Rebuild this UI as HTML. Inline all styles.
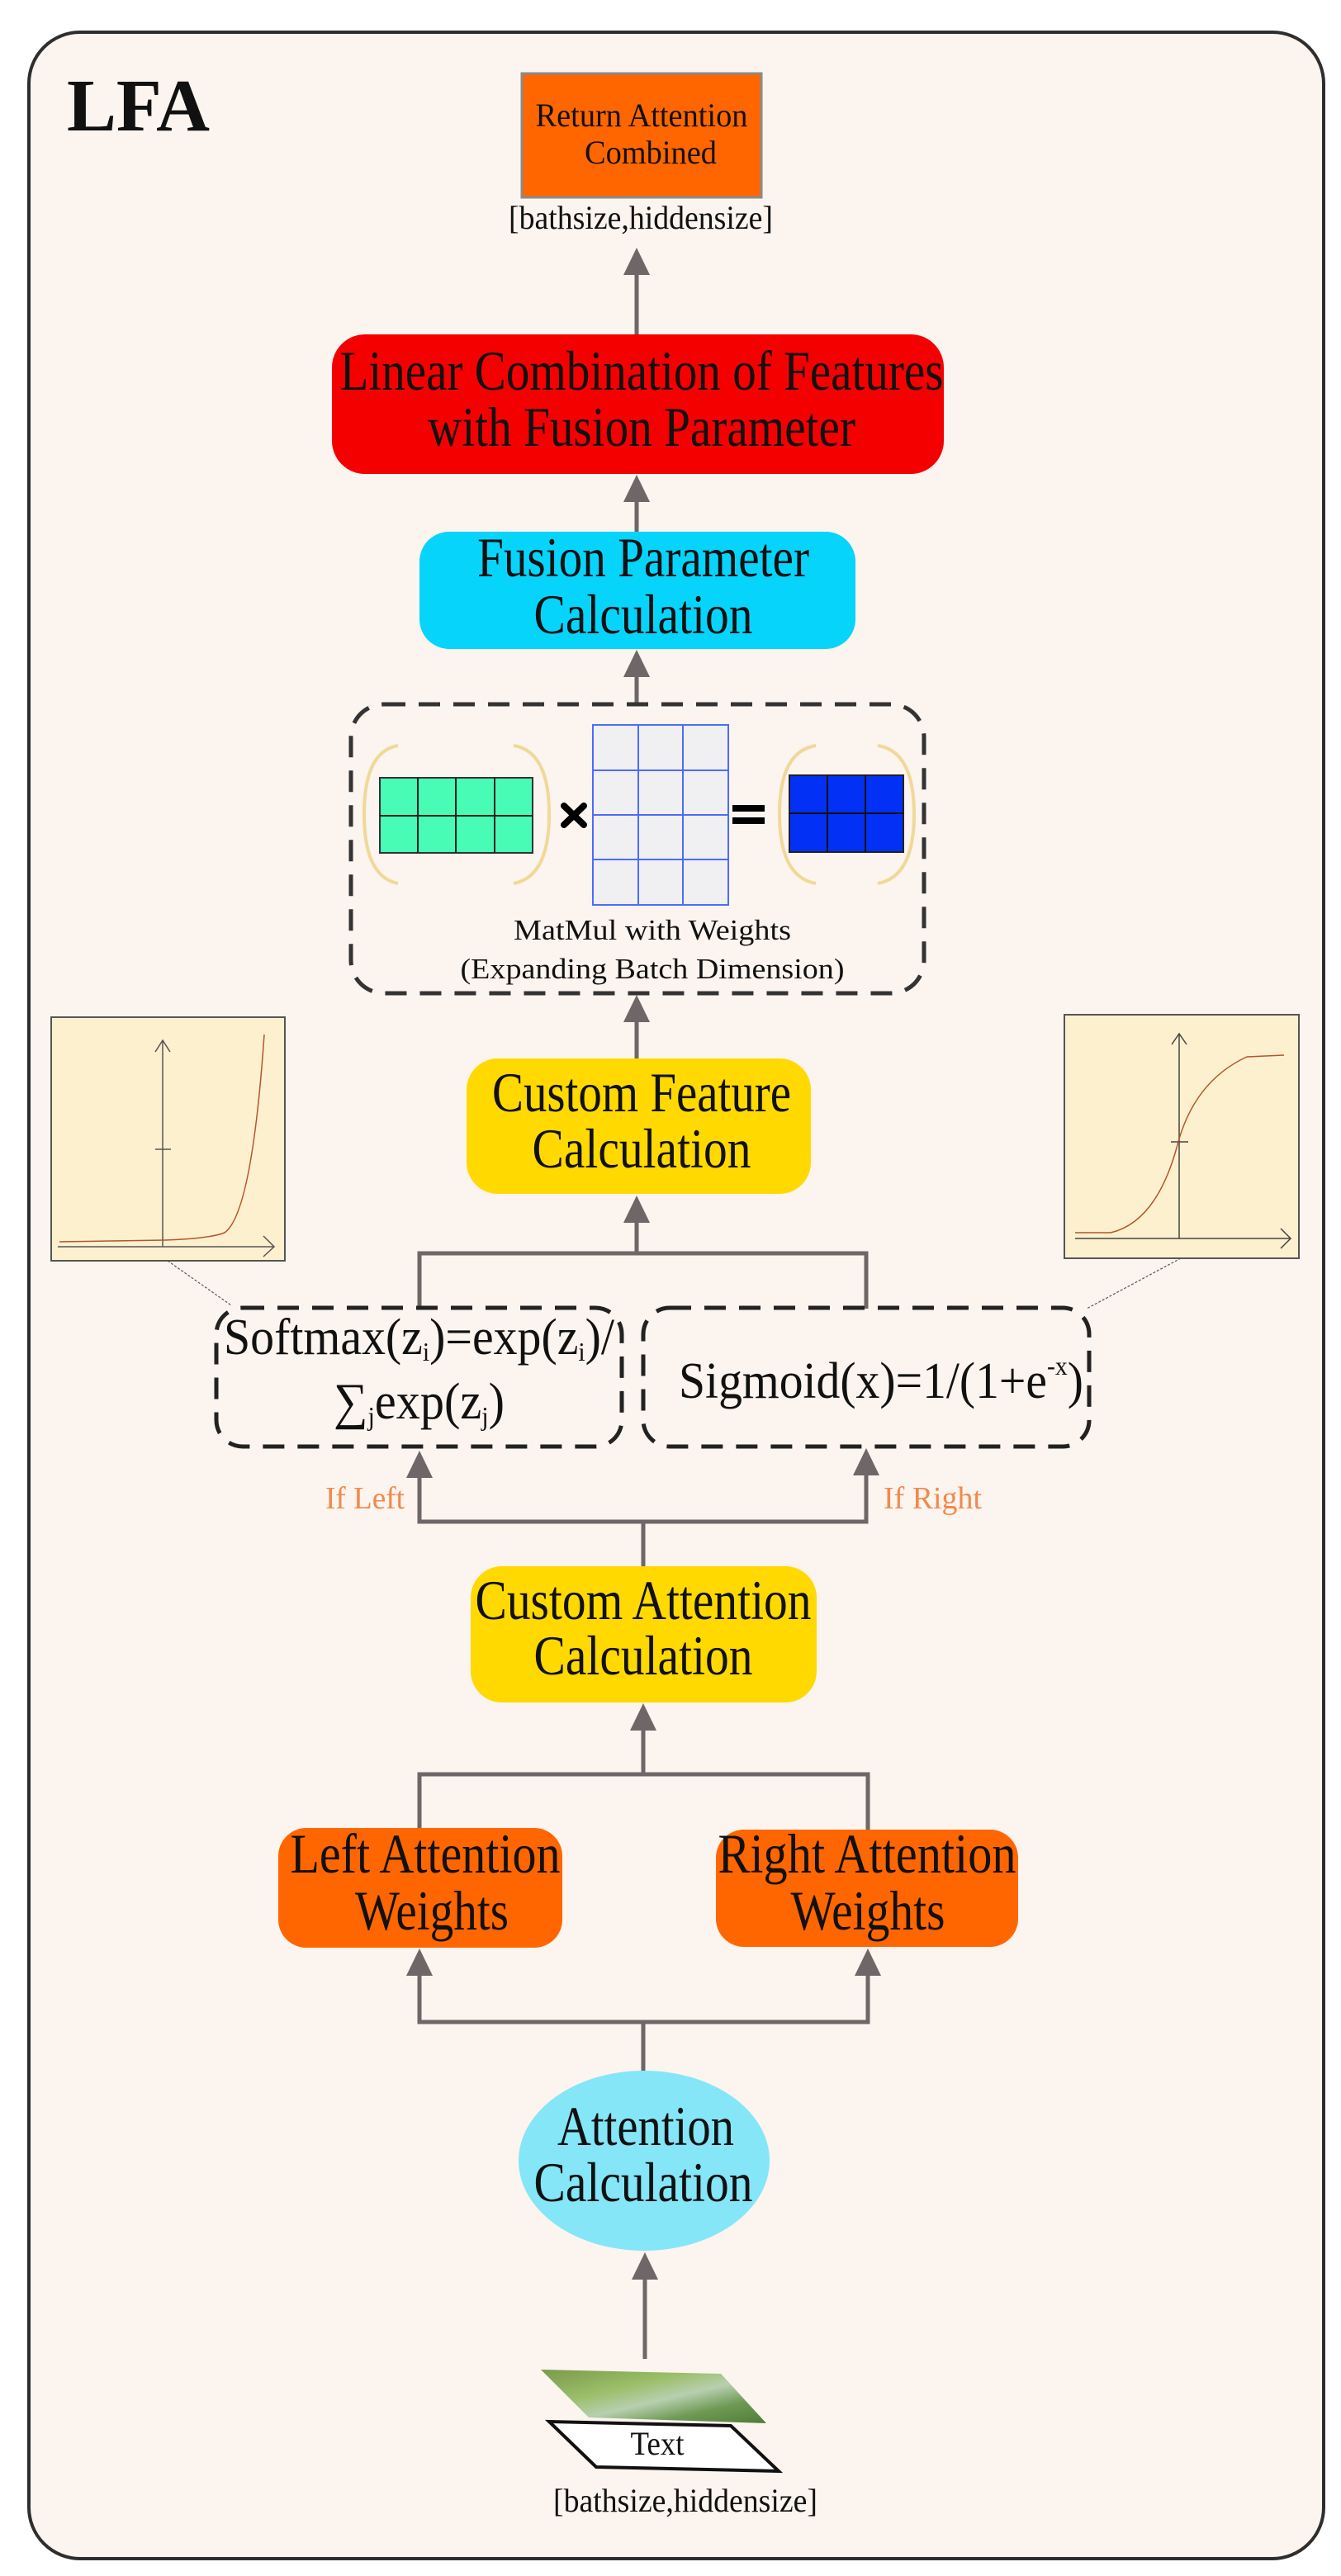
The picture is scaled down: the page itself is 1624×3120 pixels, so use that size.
<!DOCTYPE html>
<html><head><meta charset="utf-8">
<style>
html,body{margin:0;padding:0;background:#fff;}
svg{display:block;}
text{font-family:"Liberation Serif","DejaVu Serif",serif;fill:#111;}
</style></head>
<body>
<svg width="1624" height="3120" viewBox="0 0 1624 3120" xmlns="http://www.w3.org/2000/svg">
<defs>
<linearGradient id="leaf" x1="0" y1="0" x2="1" y2="1">
<stop offset="0" stop-color="#7a9a4a"/><stop offset="0.35" stop-color="#9bbf6a"/><stop offset="0.55" stop-color="#b8cfb0"/><stop offset="0.75" stop-color="#6f9a55"/><stop offset="1" stop-color="#4f7a3a"/>
</linearGradient>
</defs>
<rect x="0" y="0" width="1624" height="3120" fill="#ffffff"/>
<rect x="35" y="39" width="1568" height="3060" rx="62" fill="#fbf4ef" stroke="#2e2e2e" stroke-width="4"/>

<text x="81" y="158" font-size="90" font-weight="bold" textLength="173" lengthAdjust="spacingAndGlyphs">LFA</text>

<rect x="632" y="89" width="290" height="150" fill="#ff6600" stroke="#8a8a8a" stroke-width="3"/>
<text x="777" y="153" font-size="40" text-anchor="middle" textLength="257" lengthAdjust="spacingAndGlyphs">Return Attention</text>
<text x="788" y="198" font-size="40" text-anchor="middle" textLength="160" lengthAdjust="spacingAndGlyphs">Combined</text>
<text x="776" y="277" font-size="40" text-anchor="middle" textLength="320" lengthAdjust="spacingAndGlyphs">[bathsize,hiddensize]</text>

<g fill="#6e6667" stroke="none">
<polygon points="771,300 755,333 787,333"/>
<polygon points="771,575 755,608 787,608"/>
<polygon points="771,787 755,820 787,820"/>
<polygon points="771,1205 755,1238 787,1238"/>
<polygon points="771,1448 755,1481 787,1481"/>
<polygon points="508,1757 492,1790 524,1790"/>
<polygon points="1049,1754 1033,1787 1065,1787"/>
<polygon points="779,2063 763,2096 795,2096"/>
<polygon points="508,2360 492,2393 524,2393"/>
<polygon points="1051,2360 1035,2393 1067,2393"/>
<polygon points="781,2728 765,2761 797,2761"/>
</g>
<g stroke="#6e6667" stroke-width="5" fill="none">
<line x1="771" y1="330" x2="771" y2="405"/>
<line x1="771" y1="605" x2="771" y2="644"/>
<line x1="771" y1="815" x2="771" y2="852"/>
<line x1="771" y1="1235" x2="771" y2="1282"/>
<polyline points="508,1585 508,1518 1049,1518 1049,1585"/>
<line x1="771" y1="1478" x2="771" y2="1518"/>
<polyline points="508,1787 508,1843 1049,1843 1049,1784"/>
<line x1="779" y1="1843" x2="779" y2="1897"/>
<line x1="779" y1="2093" x2="779" y2="2149"/>
<polyline points="508,2216 508,2149 1051,2149 1051,2216"/>
<polyline points="508,2390 508,2449 1051,2449 1051,2390"/>
<line x1="779" y1="2449" x2="779" y2="2508"/>
<line x1="781" y1="2758" x2="781" y2="2857"/>
</g>

<rect x="402" y="405" width="741" height="169" rx="40" fill="#f50000"/>
<text x="777" y="472" font-size="68" text-anchor="middle" textLength="731" lengthAdjust="spacingAndGlyphs">Linear Combination of Features</text>
<text x="777" y="540" font-size="68" text-anchor="middle" textLength="518" lengthAdjust="spacingAndGlyphs">with Fusion Parameter</text>

<rect x="508" y="644" width="528" height="142" rx="36" fill="#07d4fb"/>
<text x="779" y="698" font-size="68" text-anchor="middle" textLength="402" lengthAdjust="spacingAndGlyphs">Fusion Parameter</text>
<text x="779" y="767" font-size="68" text-anchor="middle" textLength="265" lengthAdjust="spacingAndGlyphs">Calculation</text>

<rect x="425" y="853" width="694" height="350" rx="40" fill="none" stroke="#333" stroke-width="5" stroke-dasharray="26,16"/>
<g fill="none" stroke="#f0d998" stroke-width="4">
<path d="M482,903 Q441,910 441,986 Q441,1062 482,1070"/>
<path d="M622,903 Q665,910 665,986 Q665,1062 622,1070"/>
<path d="M988,903 Q944,910 944,986 Q944,1062 988,1070"/>
<path d="M1063,903 Q1107,910 1107,986 Q1107,1062 1063,1070"/>
</g>
<rect x="460" y="942" width="185" height="91" fill="#48fcb5" stroke="#333" stroke-width="2"/>
<g stroke="#222" stroke-width="2">
<line x1="506" y1="942" x2="506" y2="1033"/><line x1="552" y1="942" x2="552" y2="1033"/><line x1="599" y1="942" x2="599" y2="1033"/>
<line x1="460" y1="988" x2="645" y2="988"/>
</g>
<rect x="718" y="878" width="164" height="218" fill="#f0f0f2" stroke="#4a6cff" stroke-width="2"/>
<g stroke="#4a6cff" stroke-width="2">
<line x1="773" y1="878" x2="773" y2="1096"/><line x1="827" y1="878" x2="827" y2="1096"/>
<line x1="718" y1="933" x2="882" y2="933"/><line x1="718" y1="987" x2="882" y2="987"/><line x1="718" y1="1041" x2="882" y2="1041"/>
</g>
<g stroke="#000" stroke-width="8" stroke-linecap="round">
<line x1="683" y1="976" x2="707" y2="999"/><line x1="707" y1="976" x2="683" y2="999"/>
</g>
<rect x="887" y="975" width="39" height="8" fill="#000"/>
<rect x="887" y="990" width="39" height="8" fill="#000"/>
<rect x="956" y="939" width="138" height="93" fill="#0330f5" stroke="#222" stroke-width="2"/>
<g stroke="#111" stroke-width="2">
<line x1="1002" y1="939" x2="1002" y2="1032"/><line x1="1048" y1="939" x2="1048" y2="1032"/>
<line x1="956" y1="985" x2="1094" y2="985"/>
</g>
<text x="790" y="1138" font-size="35" text-anchor="middle" textLength="336" lengthAdjust="spacingAndGlyphs">MatMul with Weights</text>
<text x="790" y="1185" font-size="35" text-anchor="middle" textLength="465" lengthAdjust="spacingAndGlyphs">(Expanding Batch Dimension)</text>

<rect x="565" y="1282" width="417" height="164" rx="38" fill="#ffd900"/>
<text x="777" y="1346" font-size="68" text-anchor="middle" textLength="362" lengthAdjust="spacingAndGlyphs">Custom Feature</text>
<text x="777" y="1414" font-size="68" text-anchor="middle" textLength="265" lengthAdjust="spacingAndGlyphs">Calculation</text>

<rect x="62" y="1232" width="283" height="295" fill="#fdf0cf" stroke="#555" stroke-width="2"/>
<g stroke="#555" stroke-width="1.5" fill="none">
<line x1="197" y1="1260" x2="197" y2="1510"/><polyline points="188,1274 197,1260 206,1274"/>
<line x1="188" y1="1392" x2="207" y2="1392"/>
<line x1="70" y1="1510" x2="332" y2="1510"/><polyline points="319,1497 332,1510 319,1522"/>
</g>
<path d="M72,1504 L200,1502 Q255,1500 272,1493 Q305,1470 320,1253" fill="none" stroke="#b4552a" stroke-width="1.5"/>
<line x1="203" y1="1527" x2="280" y2="1581" stroke="#555" stroke-width="1.2" stroke-dasharray="3,2"/>

<rect x="1289" y="1229" width="284" height="295" fill="#fdf0cf" stroke="#555" stroke-width="2"/>
<g stroke="#444" stroke-width="1.5" fill="none">
<line x1="1428" y1="1252" x2="1428" y2="1500"/><polyline points="1419,1265 1428,1252 1437,1265"/>
<line x1="1418" y1="1383" x2="1439" y2="1383"/>
<line x1="1302" y1="1500" x2="1563" y2="1500"/><polyline points="1551,1488 1563,1500 1551,1512"/>
</g>
<path d="M1302,1493 L1345,1493 Q1400,1480 1425,1390 Q1445,1310 1510,1280 L1555,1278" fill="none" stroke="#b4552a" stroke-width="1.5"/>
<line x1="1430" y1="1524" x2="1316" y2="1585" stroke="#555" stroke-width="1.2" stroke-dasharray="3,2"/>

<rect x="262" y="1584" width="491" height="168" rx="32" fill="none" stroke="#222" stroke-width="5" stroke-dasharray="26,16"/>
<rect x="779" y="1584" width="540" height="168" rx="32" fill="none" stroke="#222" stroke-width="5" stroke-dasharray="26,16"/>
<text x="271" y="1640" font-size="62" textLength="473" lengthAdjust="spacingAndGlyphs">Softmax(z<tspan font-size="32" dy="8">i</tspan><tspan dy="-8">)=exp(z</tspan><tspan font-size="32" dy="8">i</tspan><tspan dy="-8">)/</tspan></text>
<text x="404" y="1718" font-size="62" textLength="207" lengthAdjust="spacingAndGlyphs">∑<tspan font-size="32" dy="8">j</tspan><tspan dy="-8">exp(z</tspan><tspan font-size="32" dy="8">j</tspan><tspan dy="-8">)</tspan></text>
<text x="822" y="1693" font-size="62" textLength="490" lengthAdjust="spacingAndGlyphs">Sigmoid(x)=1/(1+e<tspan font-size="32" dy="-28">-x</tspan><tspan dy="28">)</tspan></text>

<text x="394" y="1827" font-size="38" style="fill:#f08a4b" textLength="96" lengthAdjust="spacingAndGlyphs">If Left</text>
<text x="1070" y="1827" font-size="38" style="fill:#f08a4b" textLength="119" lengthAdjust="spacingAndGlyphs">If Right</text>

<rect x="570" y="1897" width="419" height="165" rx="38" fill="#ffd900"/>
<text x="779" y="1961" font-size="68" text-anchor="middle" textLength="407" lengthAdjust="spacingAndGlyphs">Custom Attention</text>
<text x="779" y="2028" font-size="68" text-anchor="middle" textLength="265" lengthAdjust="spacingAndGlyphs">Calculation</text>

<rect x="337" y="2214" width="344" height="145" rx="34" fill="#ff6600"/>
<text x="515" y="2268" font-size="68" text-anchor="middle" textLength="327" lengthAdjust="spacingAndGlyphs">Left Attention</text>
<text x="523" y="2337" font-size="68" text-anchor="middle" textLength="186" lengthAdjust="spacingAndGlyphs">Weights</text>
<rect x="867" y="2216" width="366" height="142" rx="34" fill="#ff6600"/>
<text x="1050" y="2268" font-size="68" text-anchor="middle" textLength="361" lengthAdjust="spacingAndGlyphs">Right Attention</text>
<text x="1051" y="2337" font-size="68" text-anchor="middle" textLength="187" lengthAdjust="spacingAndGlyphs">Weights</text>

<ellipse cx="780" cy="2617" rx="152" ry="109" fill="#84e6f7"/>
<text x="782" y="2598" font-size="68" text-anchor="middle" textLength="214" lengthAdjust="spacingAndGlyphs">Attention</text>
<text x="779" y="2666" font-size="68" text-anchor="middle" textLength="265" lengthAdjust="spacingAndGlyphs">Calculation</text>

<polygon points="655,2870 873,2875 928,2935 713,2928" fill="url(#leaf)"/>
<polygon points="665,2933 885,2938 943,2993 722,2988" fill="#fff" stroke="#111" stroke-width="4"/>
<text x="796" y="2973" font-size="40" text-anchor="middle" textLength="65" lengthAdjust="spacingAndGlyphs">Text</text>
<text x="830" y="3042" font-size="40" text-anchor="middle" textLength="320" lengthAdjust="spacingAndGlyphs">[bathsize,hiddensize]</text>
</svg>
</body></html>
